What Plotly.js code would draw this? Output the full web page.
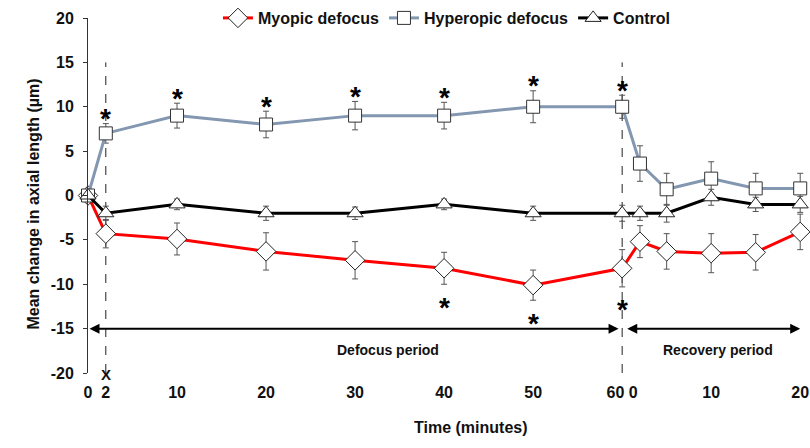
<!DOCTYPE html>
<html>
<head>
<meta charset="utf-8">
<script src="https://cdn.plot.ly/plotly-3.0.1.min.js"></script>
<style>html,body{margin:0;padding:0;background:#fff;}#chart{width:810px;height:448px;}</style>
</head>
<body>
<div id="chart"></div>
<script>
// ---- data ----
const time = [0, 2, 10, 20, 30, 40, 50, 60, 62, 65, 70, 75, 80];
const tickVals = [0, 2, 10, 20, 30, 40, 50, 60, 70, 80];
const tickText = ['0', '2', '10', '20', '30', '40', '50', '60 0', '10', '20'];
const yTickVals = [-20, -15, -10, -5, 0, 5, 10, 15, 20];
const yTickText = ['-20', '-15', '-10', '-5', '0', '5', '10', '15', '20'];
const myopic = [0, -4.3, -4.9, -6.3, -7.3, -8.2, -10.1, -8.2, -5.2, -6.3, -6.5, -6.4, -4.1];
const myopicErr = [0, 1.6, 1.8, 2.1, 2.1, 1.8, 1.7, 2.1, 1.8, 2.0, 2.2, 2.0, 2.0];
const hyperopic = [0, 7.0, 9.0, 8.0, 9.0, 9.0, 10.0, 10.0, 3.6, 0.7, 1.9, 0.8, 0.8];
const hyperopicErr = [0, 1.1, 1.4, 1.5, 1.6, 1.5, 1.8, 1.3, 2.0, 1.8, 1.9, 1.7, 1.7];
const control = [0, -2.0, -1.0, -2.0, -2.0, -1.0, -2.0, -2.0, -2.0, -2.0, -0.2, -1.0, -1.0];
const controlErr = [0, 0.8, 0.6, 0.8, 0.7, 0.6, 0.8, 0.9, 0.8, 1.0, 0.9, 0.8, 0.9];
const hyperopicSig = [0, 1, 1, 1, 1, 1, 1, 1, 0, 0, 0, 0, 0];
const myopicSig = [0, 0, 0, 0, 0, 1, 1, 1, 0, 0, 0, 0, 0];
const seriesNames = ['Myopic defocus', 'Hyperopic defocus', 'Control'];
const periodMarks = [2, 60];          // dashed vertical lines (minutes)
const periods = [
  {label: 'Defocus period', start: 0, end: 60},
  {label: 'Recovery period', start: 60, end: 80}
];

const FONT = 'Arial, "Liberation Sans", sans-serif';
const errStyle = (arr) => ({type: 'data', array: arr, visible: true, color: '#555', thickness: 1, width: 3});

const traces = [
  {x: time, y: myopic, name: seriesNames[0], type: 'scatter', mode: 'lines+markers', cliponaxis: false,
   line: {color: '#ff0000', width: 3},
   marker: {symbol: 'diamond', size: 15, color: '#fff', line: {color: '#222', width: 1}},
   error_y: errStyle(myopicErr)},
  {x: time, y: hyperopic, name: seriesNames[1], type: 'scatter', mode: 'lines+markers', cliponaxis: false,
   line: {color: '#8497b0', width: 3},
   marker: {symbol: 'square', size: 13, color: '#fff', line: {color: '#333', width: 1}},
   error_y: errStyle(hyperopicErr)},
  {x: time, y: control, name: seriesNames[2], type: 'scatter', mode: 'lines+markers', cliponaxis: false,
   line: {color: '#000', width: 3},
   marker: {symbol: 'triangle-up', size: 14, color: '#fff', line: {color: '#222', width: 1}},
   error_y: errStyle(controlErr)}
];

const annotations = [];
time.forEach((t, i) => {
  if (hyperopicSig[i]) annotations.push({x: t, y: hyperopic[i] + hyperopicErr[i], xref: 'x', yref: 'y',
    text: '*', showarrow: false, yanchor: 'middle', yshift: 5,
    font: {family: FONT, size: 28, color: '#000', weight: 'bold'}});
  if (myopicSig[i]) annotations.push({x: t, y: myopic[i] - myopicErr[i], xref: 'x', yref: 'y',
    text: '*', showarrow: false, yanchor: 'middle', yshift: -23,
    font: {family: FONT, size: 28, color: '#000', weight: 'bold'}});
});
periods.forEach((p, k) => {
  annotations.push({x: k === 0 ? p.end - 0.4 : p.end, y: -15, ax: k === 0 ? p.start : p.start + 0.4, ay: -15,
    xref: 'x', yref: 'y', axref: 'x', ayref: 'y', text: '', showarrow: true,
    arrowhead: 2, arrowside: 'end+start', arrowsize: 1, arrowwidth: 2, arrowcolor: '#000',
    standoff: 0, startstandoff: 0});
  annotations.push({x: (p.start + p.end) / 2 + (k === 0 ? 3.7 : 0.8), y: -17.4, xref: 'x', yref: 'y',
    text: p.label, showarrow: false, font: {family: FONT, size: 14, color: '#111', weight: 'bold'}});
});
annotations.push({x: periodMarks[0], y: -20, xref: 'x', yref: 'y', text: 'X', showarrow: false,
  yanchor: 'middle', yshift: -1, font: {family: FONT, size: 15, color: '#111', weight: 'bold'}});
annotations.push({x: 471, y: 438, xref: 'paper', yref: 'paper', text: 'Time (minutes)', showarrow: false,
  font: {family: FONT, size: 16, color: '#111', weight: 'bold'}});
annotations.push({x: 22, y: 204, xref: 'paper', yref: 'paper', text: 'Mean change in axial length (µm)',
  showarrow: false, textangle: -90, font: {family: FONT, size: 16, color: '#111', weight: 'bold'}});

// convert pixel-placed titles to paper coords
const W = 810, H = 448, ML = 88, MR = 0, MT = 18, MB = 75;
annotations.forEach(a => {
  if (a.xref === 'paper') {
    a.x = (a.x - ML) / (W - ML - MR);
    a.y = 1 - (a.y - MT) / (H - MT - MB);
  }
});

const shapes = periodMarks.map(m => ({type: 'line', xref: 'x', yref: 'y', x0: m, x1: m, y0: -20, y1: 15,
  line: {color: '#222', width: 1, dash: 'dash'}, layer: 'below'}));

const layout = {
  width: W, height: H,
  margin: {l: ML, r: MR, t: MT, b: MB, pad: 0},
  paper_bgcolor: '#fff', plot_bgcolor: '#fff',
  font: {family: FONT, size: 16, color: '#111', weight: 'bold'},
  showlegend: true,
  legend: {orientation: 'h', x: 0.18, xanchor: 'left', y: 1.0, yanchor: 'middle',
    bgcolor: 'rgba(0,0,0,0)', font: {family: FONT, size: 16, color: '#111', weight: 'bold'},
    traceorder: 'normal'},
  xaxis: {range: [0, 81.1], showgrid: false, zeroline: false, showline: false, ticks: '',
    tickmode: 'array', tickvals: tickVals, ticktext: tickText, ticklabelstandoff: 8,
    tickfont: {family: FONT, size: 16, color: '#111', weight: 'bold'}},
  xaxis2: {overlaying: 'x', matches: 'x', anchor: 'free', position: 0.5, side: 'bottom',
    showgrid: false, zeroline: false, showline: true, linecolor: '#aaa', linewidth: 1,
    showticklabels: false, ticks: 'inside', ticklen: 5, tickcolor: '#999', tickmode: 'linear', tick0: 0, dtick: 10,
    minor: {ticks: 'inside', ticklen: 3, tickcolor: '#999', dtick: 1, tick0: 0}},
  yaxis: {range: [-20, 20], showgrid: false, zeroline: false, showline: true, linecolor: '#333', linewidth: 1,
    ticks: 'outside', ticklen: 4, tickcolor: '#333', tickmode: 'array',
    tickvals: yTickVals, ticktext: yTickText, ticklabelstandoff: 6,
    tickfont: {family: FONT, size: 16, color: '#111', weight: 'bold'}},
  annotations: annotations,
  shapes: shapes
};

Plotly.newPlot('chart', traces, layout, {displayModeBar: false, staticPlot: true});
</script>
</body>
</html>
